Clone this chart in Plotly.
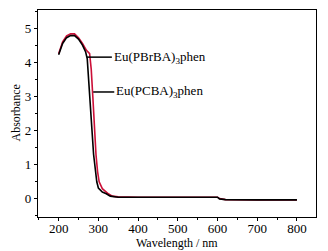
import plotly.graph_objects as go

# Eu(PBrBA)3phen (black)
wl_black = [200, 210, 220, 230, 240, 250, 260, 268, 272, 276, 280, 284, 288, 292, 296, 300, 310, 320, 330, 350, 400, 500, 600, 605, 620, 700, 800]
abs_black = [4.22, 4.55, 4.72, 4.78, 4.78, 4.68, 4.50, 4.30, 4.10, 3.30, 2.60, 2.00, 1.30, 0.80, 0.50, 0.32, 0.20, 0.15, 0.08, 0.05, 0.05, 0.05, 0.05, 0.00, -0.02, -0.03, -0.03]
# Eu(PCBA)3phen (red)
wl_red = [200, 210, 220, 230, 240, 250, 260, 270, 278, 282, 286, 290, 294, 298, 302, 310, 318, 325, 335, 350, 400, 500, 600, 605, 620, 700, 800]
abs_red = [4.25, 4.60, 4.77, 4.83, 4.83, 4.72, 4.55, 4.35, 4.25, 3.80, 3.00, 2.10, 1.30, 0.80, 0.50, 0.30, 0.22, 0.15, 0.08, 0.06, 0.05, 0.05, 0.05, 0.01, -0.02, -0.03, -0.03]

labels = ["Eu(PBrBA)<sub>3</sub>phen", "Eu(PCBA)<sub>3</sub>phen"]
label_x = [271, 287]
label_y = [4.15, 3.13]
label_end_x = [334, 340]

x_ticks = [200, 300, 400, 500, 600, 700, 800]
y_ticks = [0, 1, 2, 3, 4, 5]
x_title = "Wavelength / nm"
y_title = "Absorbance"

FONT = "Liberation Serif"

fig = go.Figure()
fig.add_trace(go.Scatter(x=wl_red, y=abs_red, mode="lines",
                         line=dict(color="#cc1038", width=1.6), showlegend=False))
fig.add_trace(go.Scatter(x=wl_black, y=abs_black, mode="lines",
                         line=dict(color="black", width=1.6), showlegend=False))

for t, x0, y0, x1 in zip(labels, label_x, label_y, label_end_x):
    fig.add_shape(type="line", x0=x0, x1=x1, y0=y0, y1=y0,
                  line=dict(color="black", width=1.5))
    fig.add_annotation(x=x1, y=y0, text=t, showarrow=False, xanchor="left",
                       yanchor="middle", xshift=0,
                       font=dict(family=FONT, size=13, color="black"))

fig.add_annotation(xref="paper", yref="paper", x=0.5, y=0, yanchor="middle",
                   yshift=-26, text=x_title, showarrow=False,
                   font=dict(family=FONT, size=12, color="black"))
fig.add_annotation(xref="paper", yref="paper", x=0, y=0.5, xanchor="center",
                   xshift=-23, text=y_title, showarrow=False, textangle=-90,
                   font=dict(family=FONT, size=12, color="black"))

axis_common = dict(showline=True, linecolor="black", linewidth=1.2, mirror=True,
                   ticks="outside", ticklen=3, tickwidth=1.2, tickcolor="black",
                   showgrid=False, zeroline=False, automargin=False,
                   tickfont=dict(family=FONT, size=13, color="black"))

fig.update_xaxes(range=[148, 848], tickvals=x_ticks, ticklabelstandoff=-4,
                 minor=dict(ticks="outside", ticklen=2, tickwidth=1, tickcolor="black", dtick=50, tick0=0),
                 **axis_common)
fig.update_yaxes(range=[-0.53, 5.53], tickvals=y_ticks,
                 minor=dict(ticks="outside", ticklen=2, tickwidth=1, tickcolor="black", dtick=0.5, tick0=0),
                 **axis_common)

fig.update_layout(width=328, height=251, margin=dict(l=38, r=12, t=10, b=34),
                  paper_bgcolor="white", plot_bgcolor="white")

fig.write_html("out.html", config={"displayModeBar": False},
               post_script="document.body.style.margin='0px';")
